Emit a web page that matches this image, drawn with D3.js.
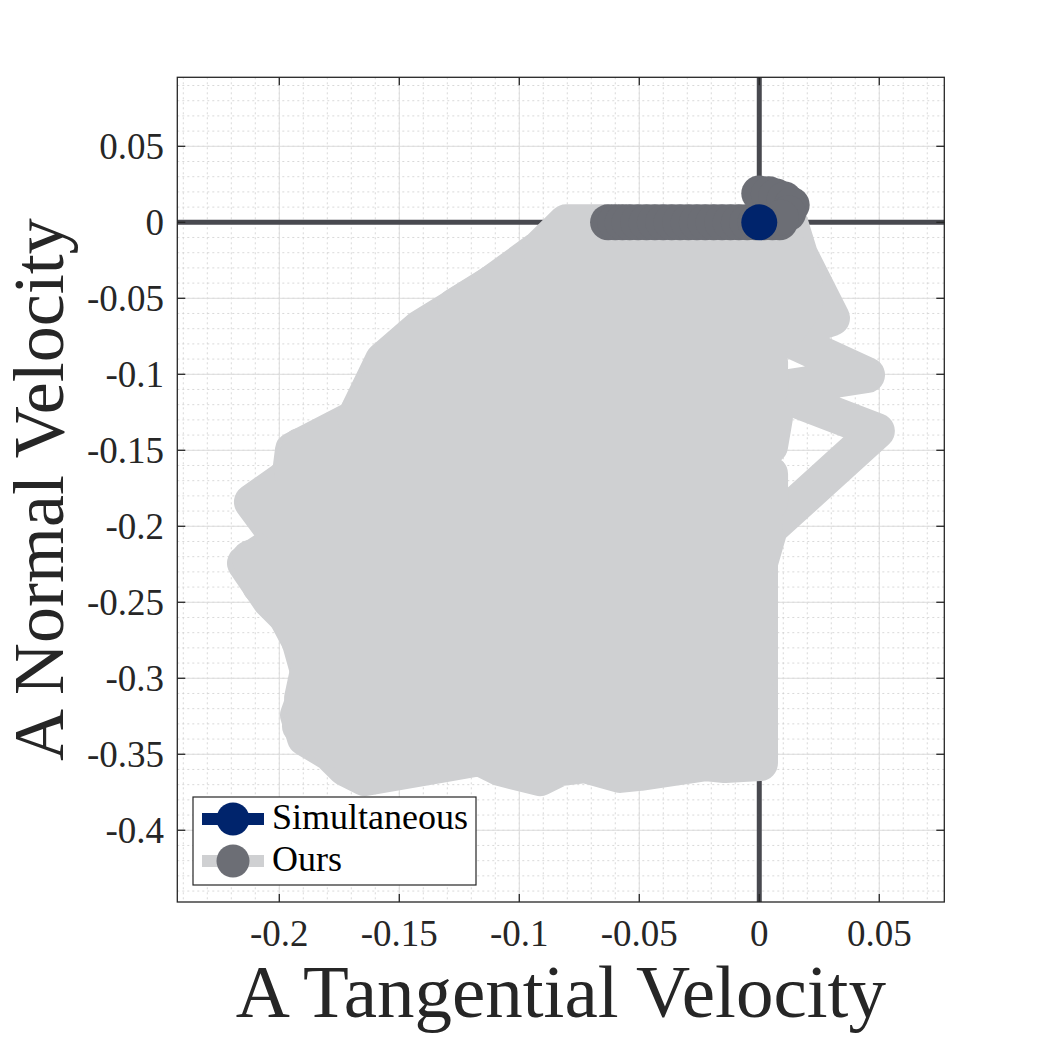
<!DOCTYPE html>
<html>
<head>
<meta charset="utf-8">
<script src="https://cdn.jsdelivr.net/npm/d3@7"></script>
<style>
  body { margin: 0; background: #fff; }
  svg text { font-family: "Liberation Serif", "DejaVu Serif", serif; fill: #262626; }
</style>
</head>
<body>
<svg id="chart" width="1042" height="1042"></svg>
<script>
// axis limits and ticks
var xDomain = [-0.2425, 0.0771],
    yDomain = [-0.4472, 0.0954],
    xTicks = [-0.2, -0.15, -0.1, -0.05, 0, 0.05],
    yTicks = [0.05, 0, -0.05, -0.1, -0.15, -0.2, -0.25, -0.3, -0.35, -0.4];

// "Ours" trajectory (tangential, normal velocity) - outline pass
var oursOutline = [
  [-0.0805, 0.000], [0.0128, 0.000], [0.0170, -0.0215], [0.0303, -0.0630],
  [0.0086, -0.0742], [0.0449, -0.1005], [0.0045, -0.1103], [0.0490, -0.1373],
  [0.0045, -0.2011], [0.0003, -0.2242], [0.0003, -0.3558], [-0.0143, -0.3571],
  [-0.0226, -0.3558], [-0.0497, -0.3623], [-0.0580, -0.3636], [-0.0726, -0.3571],
  [-0.0830, -0.3591], [-0.0914, -0.3657], [-0.1080, -0.3591], [-0.1164, -0.3525],
  [-0.1330, -0.3571], [-0.1643, -0.3657], [-0.1726, -0.3591], [-0.1789, -0.3492],
  [-0.1893, -0.3393], [-0.1922, -0.3242], [-0.1889, -0.3097], [-0.1880, -0.2958],
  [-0.1935, -0.2649], [-0.2039, -0.2485], [-0.2143, -0.2242], [-0.1997, -0.2090],
  [-0.2114, -0.1840], [-0.1956, -0.1663], [-0.1943, -0.1498], [-0.1685, -0.1288],
  [-0.1568, -0.0907], [-0.1414, -0.0696], [-0.1143, -0.0433], [-0.0914, -0.0170],
  [-0.0805, 0.000]
];
// "Ours" trajectory - back and forth sweeps through the middle
var oursSweep = [
  [-0.0914, -0.0182], [0.0128, -0.0182],
  [0.0190, -0.0367], [-0.1080, -0.0367],
  [-0.1268, -0.0551], [0.0190, -0.0551],
  [0.0107, -0.0735], [-0.1435, -0.0735],
  [-0.1568, -0.0919], [0.0045, -0.0919],
  [0.0045, -0.1103], [-0.1622, -0.1103],
  [-0.1685, -0.1288], [0.0065, -0.1288],
  [0.0045, -0.1472], [-0.1914, -0.1472],
  [-0.1947, -0.1656], [0.0045, -0.1656],
  [0.0045, -0.1840], [-0.2101, -0.1840],
  [-0.1976, -0.2024], [0.0024, -0.2024],
  [0.0003, -0.2209], [-0.2122, -0.2209],
  [-0.2080, -0.2393], [0.0003, -0.2393],
  [0.0003, -0.2577], [-0.1976, -0.2577],
  [-0.1914, -0.2761], [0.0003, -0.2761],
  [0.0003, -0.2946], [-0.1880, -0.2946],
  [-0.1905, -0.3130], [0.0003, -0.3130],
  [0.0003, -0.3314], [-0.1914, -0.3314],
  [-0.1768, -0.3472], [0.0003, -0.3472]
];
// "Ours" marker points
var oursMarkers = [
  [-0.0630, 0], [-0.0600, 0], [-0.0570, 0], [-0.0540, 0], [-0.0505, 0],
  [-0.0470, 0], [-0.0435, 0], [-0.0400, 0], [-0.0365, 0], [-0.0330, 0],
  [-0.0295, 0], [-0.0260, 0], [-0.0225, 0], [-0.0190, 0], [-0.0155, 0],
  [-0.0120, 0], [-0.0085, 0], [-0.0050, 0], [-0.0015, 0], [0.0020, 0],
  [0.0055, 0], [0.0085, 0],
  [0.0000, 0.0190], [0.0040, 0.0185], [0.0070, 0.0170], [0.0105, 0.0150],
  [0.0135, 0.0114], [0.0120, 0.0060], [0.0090, 0.0030]
];
// "Simultaneous" point
var simPoints = [[0, 0]];

var legendNames = ["Simultaneous", "Ours"];

(function(){
var svg = d3.select("#chart"),
    pl = 177.3, pt = 77.3, pr = 944.3, pb = 902,
    x = d3.scaleLinear().domain(xDomain).range([pl, pr]),
    y = d3.scaleLinear().domain(yDomain).range([pb, pt]),
    line = d3.line().x(function(d){ return x(d[0]); }).y(function(d){ return y(d[1]); });

svg.append("defs").append("clipPath").attr("id", "plotclip")
  .append("rect").attr("x", pl).attr("y", pt)
  .attr("width", pr - pl).attr("height", pb - pt);

// minor grid
var xMinor = d3.range(-24, 8).map(function(i){ return i / 100; }),
    yMinor = d3.range(-44, 10).map(function(i){ return i / 100; });
var grid = svg.append("g");
grid.selectAll(".xm").data(xMinor).enter().append("line")
  .attr("x1", x).attr("x2", x).attr("y1", pt).attr("y2", pb)
  .attr("stroke", "#cfcfcf").attr("stroke-width", 0.8).attr("stroke-dasharray", "2,3");
grid.selectAll(".ym").data(yMinor).enter().append("line")
  .attr("y1", y).attr("y2", y).attr("x1", pl).attr("x2", pr)
  .attr("stroke", "#cfcfcf").attr("stroke-width", 0.8).attr("stroke-dasharray", "2,3");
// major grid
grid.selectAll(".xg").data(xTicks).enter().append("line")
  .attr("x1", x).attr("x2", x).attr("y1", pt).attr("y2", pb)
  .attr("stroke", "#dcdcdc").attr("stroke-width", 1);
grid.selectAll(".yg").data(yTicks).enter().append("line")
  .attr("y1", y).attr("y2", y).attr("x1", pl).attr("x2", pr)
  .attr("stroke", "#dcdcdc").attr("stroke-width", 1);

// zero lines
svg.append("line").attr("x1", pl).attr("x2", pr).attr("y1", y(0)).attr("y2", y(0))
  .attr("stroke", "#48494f").attr("stroke-width", 5);
svg.append("line").attr("x1", x(0)).attr("x2", x(0)).attr("y1", pt).attr("y2", pb)
  .attr("stroke", "#48494f").attr("stroke-width", 5);

var plot = svg.append("g").attr("clip-path", "url(#plotclip)");
[oursOutline, oursSweep].forEach(function(pts){
  plot.append("path").datum(pts).attr("d", line)
    .attr("fill", "none").attr("stroke", "#cfd0d2").attr("stroke-width", 36)
    .attr("stroke-linejoin", "round").attr("stroke-linecap", "round");
});
plot.selectAll(".om").data(oursMarkers).enter().append("circle")
  .attr("cx", function(d){ return x(d[0]); }).attr("cy", function(d){ return y(d[1]); })
  .attr("r", 18).attr("fill", "#6c6e75");
plot.selectAll(".sm").data(simPoints).enter().append("circle")
  .attr("cx", function(d){ return x(d[0]); }).attr("cy", function(d){ return y(d[1]); })
  .attr("r", 18).attr("fill", "#00246c");

// box and ticks
var fmt = function(v){ return v === 0 ? "0" : String(+v.toFixed(2)); };
var axes = svg.append("g").attr("stroke", "#262626");
axes.append("rect").attr("x", pl).attr("y", pt)
  .attr("width", pr - pl).attr("height", pb - pt)
  .attr("fill", "none").attr("stroke-width", 1.3);
xTicks.forEach(function(t){
  axes.append("line").attr("x1", x(t)).attr("x2", x(t)).attr("y1", pb).attr("y2", pb - 8).attr("stroke-width", 1.3);
  axes.append("line").attr("x1", x(t)).attr("x2", x(t)).attr("y1", pt).attr("y2", pt + 8).attr("stroke-width", 1.3);
  svg.append("text").attr("x", x(t)).attr("y", 946).attr("text-anchor", "middle")
    .attr("font-size", 37).text(fmt(t));
});
yTicks.forEach(function(t){
  axes.append("line").attr("y1", y(t)).attr("y2", y(t)).attr("x1", pl).attr("x2", pl + 8).attr("stroke-width", 1.3);
  axes.append("line").attr("y1", y(t)).attr("y2", y(t)).attr("x1", pr).attr("x2", pr - 8).attr("stroke-width", 1.3);
  svg.append("text").attr("x", 164).attr("y", y(t)).attr("dy", "0.35em").attr("text-anchor", "end")
    .attr("font-size", 37).text(fmt(t));
});

// axis titles
svg.append("text").attr("x", (pl + pr) / 2).attr("y", 1017).attr("text-anchor", "middle")
  .attr("font-size", 75).text("A Tangential Velocity");
svg.append("text").attr("transform", "translate(63," + ((pt + pb) / 2) + ") rotate(-90)")
  .attr("text-anchor", "middle").attr("font-size", 72).text("A Normal Velocity");

// legend
var lg = svg.append("g");
lg.append("rect").attr("x", 193).attr("y", 797).attr("width", 283).attr("height", 88)
  .attr("fill", "#fff").attr("stroke", "#262626").attr("stroke-width", 1.2);
var legendStyle = [
  { line: "#00246c", marker: "#00246c" },
  { line: "#cfd0d2", marker: "#6c6e75" }
];
legendNames.forEach(function(name, i){
  var cy = 819 + i * 42;
  lg.append("line").attr("x1", 202).attr("x2", 264).attr("y1", cy).attr("y2", cy)
    .attr("stroke", legendStyle[i].line).attr("stroke-width", 12);
  lg.append("circle").attr("cx", 233).attr("cy", cy).attr("r", 16.5).attr("fill", legendStyle[i].marker);
  lg.append("text").attr("x", 272).attr("y", cy + 10).attr("font-size", 36)
    .style("fill", "#000").text(name);
});
})();
</script>
</body>
</html>
